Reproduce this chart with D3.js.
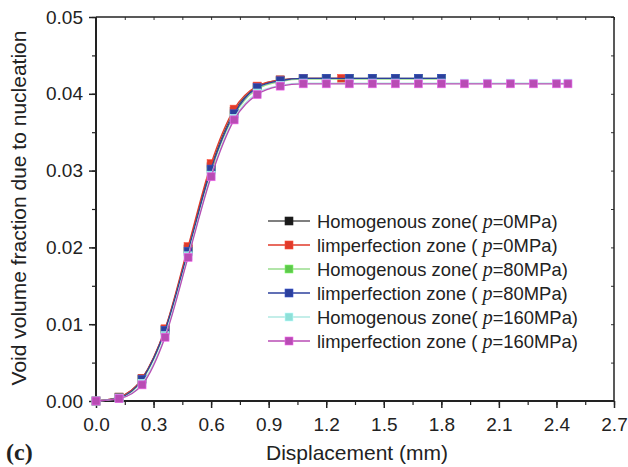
<!DOCTYPE html>
<html><head><meta charset="utf-8">
<script src="https://cdn.jsdelivr.net/npm/d3@7"></script>
<style>body{margin:0;background:#fff}svg{display:block}</style>
</head><body><svg id="c" width="628" height="467"></svg>
<script>
const seriesNames = ["Homogenous zone( ", "limperfection zone ( ", "Homogenous zone( ", "limperfection zone ( ", "Homogenous zone( ", "limperfection zone ( "];
const pressures = ["0MPa)", "0MPa)", "80MPa)", "80MPa)", "160MPa)", "160MPa)"];
const markerColors = ["#1a1a1a", "#e03a2a", "#5ec84c", "#2c409c", "#8ee0d8", "#b84cb4"];
const lineColors = ["#555555", "#e03a2a", "#98dc8c", "#2c409c", "#b0e8e2", "#b84cb4"];
const xShort = [0, 0.12, 0.24, 0.36, 0.48, 0.6, 0.72, 0.84, 0.96, 1.08, 1.2, 1.32, 1.44, 1.56, 1.68, 1.8];
const xRed = [0, 0.12, 0.24, 0.36, 0.48, 0.6, 0.72, 0.84, 0.96, 1.08, 1.28];
const xLong = [0, 0.12, 0.24, 0.36, 0.48, 0.6, 0.72, 0.84, 0.96, 1.08, 1.2, 1.32, 1.44, 1.56, 1.68, 1.8, 1.92, 2.04, 2.16, 2.28, 2.4, 2.46];
const yHomog0 = [0, 0.0005, 0.0029, 0.0093, 0.0198, 0.0305, 0.0377, 0.0409, 0.0418, 0.0420, 0.0420, 0.0420, 0.0420, 0.0420, 0.0420, 0.0420];
const yImp0 = [0, 0.0005, 0.0029, 0.0094, 0.0201, 0.0309, 0.0380, 0.0410, 0.0418, 0.0420, 0.0420];
const yHomog80 = [0, 0.0004, 0.0027, 0.0091, 0.0194, 0.0300, 0.0372, 0.0406, 0.0416, 0.0419, 0.0419, 0.0419, 0.0419, 0.0419, 0.0419, 0.0419];
const yImp80 = [0, 0.0004, 0.0028, 0.0092, 0.0195, 0.0302, 0.0374, 0.0408, 0.0417, 0.0420, 0.0420, 0.0420, 0.0420, 0.0420, 0.0420, 0.0420];
const yHomog160 = [0, 0.0003, 0.0023, 0.0085, 0.0189, 0.0294, 0.0368, 0.0401, 0.0411, 0.0414, 0.0414, 0.0414, 0.0414, 0.0414, 0.0414, 0.0414, 0.0414, 0.0414, 0.0414, 0.0414, 0.0414, 0.0414];
const yImp160 = [0, 0.0003, 0.0021, 0.0083, 0.0187, 0.0292, 0.0366, 0.0399, 0.0410, 0.0413, 0.0413, 0.0413, 0.0413, 0.0413, 0.0413, 0.0413, 0.0413, 0.0413, 0.0413, 0.0413, 0.0413, 0.0413];
const xTicks = [0, 0.3, 0.6, 0.9, 1.2, 1.5, 1.8, 2.1, 2.4, 2.7];
const yTicks = [0, 0.01, 0.02, 0.03, 0.04, 0.05];
const xsArr = [xShort, xRed, xShort, xShort, xLong, xLong];
const ysArr = [yHomog0, yImp0, yHomog80, yImp80, yHomog160, yImp160];

const SANS = "Liberation Sans, Arial, Helvetica, sans-serif";
const SERIF = "Liberation Serif, Times New Roman, serif";
const svg = d3.select("#c");
const L = 96, R = 614, T = 17, B = 401;
const x = d3.scaleLinear().domain([0, 2.7]).range([L, R]);
const y = d3.scaleLinear().domain([0, 0.05]).range([B, T]);

const xMinor = d3.range(0, 2.71, 0.15);
const yMinor = d3.range(0, 0.0501, 0.005);

// bottom axis
const gx = svg.append("g").attr("transform", `translate(0,${B})`)
  .call(d3.axisBottom(x).tickValues(xTicks).tickFormat(d3.format(".1f")).tickSize(7).tickSizeOuter(0));
gx.select(".domain").remove();
gx.selectAll("text").attr("font-size", 19).attr("fill", "#222").attr("y", 17).attr("dy", "0.71em").attr("font-family", SANS);
gx.selectAll("line").attr("stroke", "#222").attr("stroke-width", 1.5);
svg.append("g").attr("transform", `translate(0,${B})`)
  .call(d3.axisBottom(x).tickValues(xMinor).tickFormat("").tickSize(4).tickSizeOuter(0))
  .call(g => { g.select(".domain").remove(); g.selectAll("line").attr("stroke", "#222").attr("stroke-width", 1.2); });

// left axis
const gy = svg.append("g").attr("transform", `translate(${L},0)`)
  .call(d3.axisLeft(y).tickValues(yTicks).tickFormat(d3.format(".2f")).tickSize(7).tickSizeOuter(0));
gy.select(".domain").remove();
gy.selectAll("text").attr("font-size", 19).attr("fill", "#222").attr("x", -13).attr("font-family", SANS);
gy.selectAll("line").attr("stroke", "#222").attr("stroke-width", 1.5);
svg.append("g").attr("transform", `translate(${L},0)`)
  .call(d3.axisLeft(y).tickValues(yMinor).tickFormat("").tickSize(4).tickSizeOuter(0))
  .call(g => { g.select(".domain").remove(); g.selectAll("line").attr("stroke", "#222").attr("stroke-width", 1.2); });

// top & right inward ticks
svg.append("g").attr("transform", `translate(0,${T})`)
  .call(d3.axisBottom(x).tickValues(xMinor).tickFormat("").tickSize(3).tickSizeOuter(0))
  .call(g => { g.select(".domain").remove(); g.selectAll("line").attr("stroke", "#333"); });
svg.append("g").attr("transform", `translate(${R},0)`)
  .call(d3.axisLeft(y).tickValues(yMinor).tickFormat("").tickSize(3).tickSizeOuter(0))
  .call(g => { g.select(".domain").remove(); g.selectAll("line").attr("stroke", "#333"); });

// frame
svg.append("line").attr("x1", L).attr("x2", R).attr("y1", T).attr("y2", T).attr("stroke", "#222").attr("stroke-width", 1.5);
svg.append("line").attr("x1", R).attr("x2", R).attr("y1", T).attr("y2", B).attr("stroke", "#222").attr("stroke-width", 1.5);
svg.append("line").attr("x1", L).attr("x2", R).attr("y1", B).attr("y2", B).attr("stroke", "#222").attr("stroke-width", 2);
svg.append("line").attr("x1", L).attr("x2", L).attr("y1", T).attr("y2", B).attr("stroke", "#222").attr("stroke-width", 2);

// series
const line = d3.line().x(d => x(d[0])).y(d => y(d[1])).curve(d3.curveMonotoneX);
const ms = 8;
ysArr.forEach((ys, i) => {
  const pts = ys.map((v, j) => [xsArr[i][j], v]);
  svg.append("path").datum(pts).attr("d", line).attr("fill", "none")
    .attr("stroke", lineColors[i]).attr("stroke-width", 1.3);
  svg.append("g").selectAll("rect").data(pts).join("rect")
    .attr("x", d => x(d[0]) - ms / 2).attr("y", d => y(d[1]) - ms / 2)
    .attr("width", ms).attr("height", ms)
    .attr("fill", markerColors[i]).attr("stroke", d3.color(markerColors[i]).brighter(0.8)).attr("stroke-width", 0.6);
});

// legend
const lg = svg.append("g");
seriesNames.forEach((n, i) => {
  const cy = 221 + i * 24;
  lg.append("line").attr("x1", 268).attr("x2", 310).attr("y1", cy).attr("y2", cy)
    .attr("stroke", lineColors[i]).attr("stroke-width", 1.5);
  lg.append("rect").attr("x", 289 - ms / 2).attr("y", cy - ms / 2).attr("width", ms).attr("height", ms)
    .attr("fill", markerColors[i]).attr("stroke", d3.color(markerColors[i]).brighter(0.8)).attr("stroke-width", 0.6);
  const t = lg.append("text").attr("x", 317).attr("y", cy + 6.5).attr("font-size", 18.4).attr("fill", "#222").attr("font-family", SANS);
  t.append("tspan").text(n);
  t.append("tspan").text("p").attr("font-family", SERIF).attr("font-style", "italic").attr("font-size", 20);
  t.append("tspan").text("=" + pressures[i]);
});

// titles
svg.append("text").attr("x", 357).attr("y", 460).attr("text-anchor", "middle").attr("font-family", SANS)
  .attr("font-size", 21).attr("fill", "#222").text("Displacement (mm)");
svg.append("text").attr("transform", `translate(26,208) rotate(-90)`).attr("text-anchor", "middle")
  .attr("font-family", SANS).attr("font-size", 21).attr("fill", "#222").text("Void volume fraction due to nucleation");
svg.append("text").attr("x", 6).attr("y", 460).attr("font-family", SERIF)
  .attr("font-weight", "bold").attr("font-size", 24).attr("fill", "#222").text("(c)");
</script></body></html>
